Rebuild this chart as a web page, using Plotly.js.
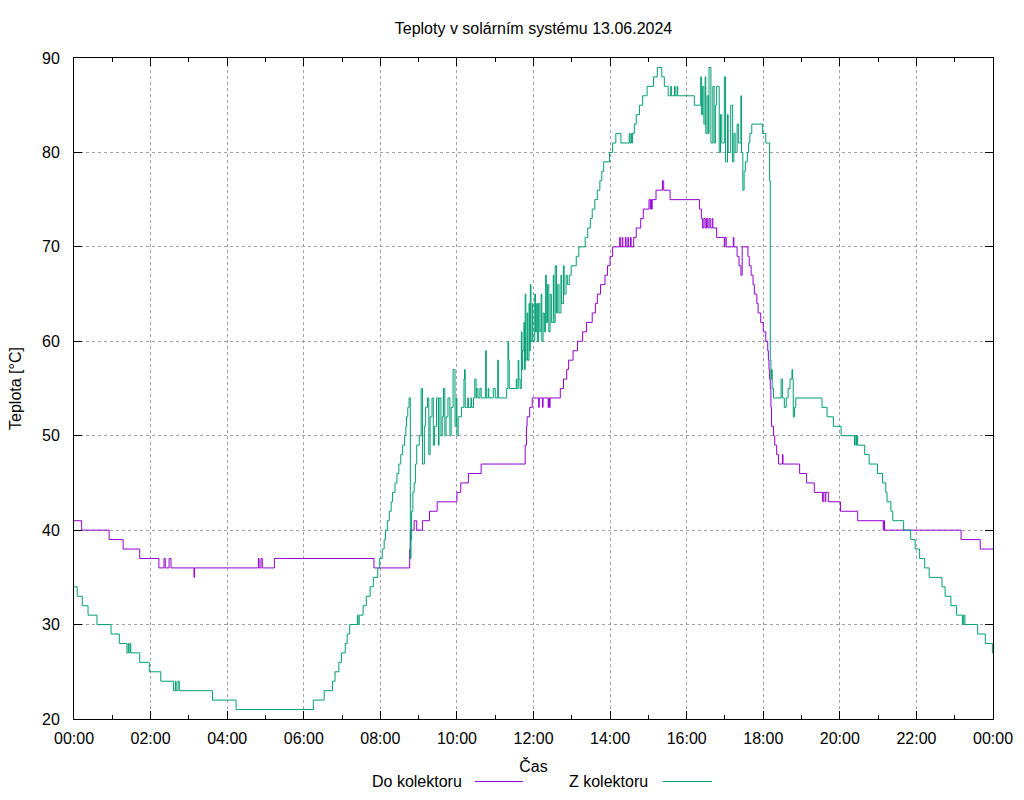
<!DOCTYPE html>
<html>
<head>
<meta charset="utf-8">
<script src="https://cdn.plot.ly/plotly-3.0.1.min.js"></script>
<style>
  html, body { margin: 0; padding: 0; background: #fff; }
  #chart { width: 1024px; height: 800px; }
</style>
</head>
<body>
<div id="chart"></div>
<script>
/* --- Data: Do kolektoru (purple) --- */
const doTimes = [
  '00:00', '00:12', '00:55', '01:17', '01:43', '02:13', '02:21', '02:23', '02:29', '02:32',
  '03:08', '03:09', '04:49', '04:50', '04:53', '04:55', '05:14', '07:50', '08:46', '08:47',
  '08:53', '08:57', '09:06', '09:17', '09:29', '10:00', '10:06', '10:18', '10:38', '11:47',
  '11:49', '11:50', '11:54', '11:58', '12:08', '12:09', '12:14', '12:15', '12:23', '12:24',
  '12:25', '12:26', '12:42', '12:47', '12:52', '12:55', '13:02', '13:09', '13:17', '13:23',
  '13:32', '13:37', '13:40', '13:45', '13:52', '13:56', '14:00', '14:04', '14:15', '14:16',
  '14:19', '14:20', '14:24', '14:25', '14:28', '14:29', '14:32', '14:33', '14:37', '14:41',
  '14:48', '14:52', '15:01', '15:03', '15:04', '15:05', '15:06', '15:12', '15:22', '15:24',
  '15:34', '16:20', '16:23', '16:25', '16:27', '16:29', '16:31', '16:33', '16:35', '16:37',
  '16:40', '16:41', '16:47', '16:59', '17:00', '17:02', '17:13', '17:14', '17:19', '17:22',
  '17:25', '17:27', '17:36', '17:38', '17:41', '17:44', '17:46', '17:50', '17:52', '17:56',
  '18:00', '18:04', '18:07', '18:08', '18:09', '18:10', '18:11', '18:12', '18:13', '18:16',
  '18:18', '18:21', '18:24', '18:30', '18:31', '18:57', '19:08', '19:20', '19:33', '19:34',
  '19:37', '19:38', '19:42', '20:01', '20:28', '21:08', '21:09', '21:10', '23:10', '23:40',
  '24:00',
];
const doValues = [
  41, 40, 39, 38, 37, 36, 37, 36, 37, 36,
  35, 36, 37, 36, 37, 36, 37, 36, 38, 40,
  41, 40, 41, 42, 43, 44, 45, 46, 47, 49,
  51, 52, 53, 54, 53, 54, 53, 54, 53, 54,
  53, 54, 55, 56, 57, 58, 59, 60, 61, 62,
  63, 64, 65, 66, 67, 68, 69, 70, 71, 70,
  71, 70, 71, 70, 71, 70, 71, 70, 71, 72,
  73, 74, 75, 74, 75, 74, 75, 76, 77, 76,
  75, 74, 73, 72, 73, 72, 73, 72, 73, 72,
  73, 72, 71, 70, 71, 70, 71, 70, 69, 68,
  67, 70, 69, 68, 67, 66, 65, 64, 63, 62,
  61, 60, 59, 58, 57, 56, 55, 53, 51, 50,
  49, 48, 47, 48, 47, 46, 45, 44, 43, 44,
  43, 44, 43, 42, 41, 40, 41, 40, 39, 38,
  38,
];

/* --- Data: Z kolektoru (green) --- */
const zTimes = [
  '00:00', '00:05', '00:13', '00:22', '00:36', '00:58', '01:11', '01:23', '01:25', '01:26',
  '01:28', '01:29', '01:43', '01:58', '02:16', '02:36', '02:39', '02:40', '02:43', '02:45',
  '03:37', '04:14', '06:15', '06:32', '06:45', '06:49', '06:55', '06:59', '07:05', '07:08',
  '07:12', '07:24', '07:25', '07:27', '07:33', '07:38', '07:44', '07:49', '07:56', '07:59',
  '08:03', '08:06', '08:08', '08:11', '08:14', '08:17', '08:19', '08:23', '08:26', '08:29',
  '08:32', '08:35', '08:38', '08:40', '08:41', '08:43', '08:45', '08:47', '08:48', '08:49',
  '08:51', '08:53', '08:55', '08:57', '09:01', '09:04', '09:06', '09:09', '09:11', '09:14',
  '09:16', '09:18', '09:21', '09:23', '09:25', '09:28', '09:31', '09:32', '09:35', '09:37',
  '09:39', '09:41', '09:43', '09:46', '09:49', '09:51', '09:54', '09:57', '09:59', '10:00',
  '10:02', '10:07', '10:11', '10:12', '10:13', '10:17', '10:18', '10:22', '10:23', '10:26',
  '10:28', '10:30', '10:31', '10:33', '10:36', '10:38', '10:45', '10:46', '10:49', '10:50',
  '10:57', '11:00', '11:04', '11:05', '11:18', '11:20', '11:21', '11:22', '11:33', '11:34',
  '11:36', '11:37', '11:39', '11:41', '11:42', '11:43', '11:45', '11:46', '11:47', '11:48',
  '11:50', '11:51', '11:53', '11:54', '11:55', '11:56', '11:58', '11:59', '12:02', '12:03',
  '12:05', '12:06', '12:08', '12:10', '12:12', '12:13', '12:15', '12:17', '12:19', '12:20',
  '12:22', '12:24', '12:26', '12:28', '12:31', '12:32', '12:34', '12:36', '12:38', '12:40',
  '12:43', '12:44', '12:47', '12:48', '12:51', '12:53', '12:56', '12:59', '13:07', '13:11',
  '13:21', '13:25', '13:29', '13:32', '13:36', '13:40', '13:44', '13:47', '13:50', '13:59',
  '14:04', '14:09', '14:17', '14:30', '14:31', '14:33', '14:34', '14:35', '14:38', '14:41',
  '14:46', '14:51', '14:58', '15:08', '15:14', '15:21', '15:25', '15:31', '15:35', '15:36',
  '15:41', '15:42', '15:45', '15:46', '16:12', '16:22', '16:23', '16:25', '16:27', '16:29',
  '16:30', '16:32', '16:34', '16:35', '16:38', '16:41', '16:43', '16:45', '16:47', '16:51',
  '16:53', '16:55', '16:59', '17:01', '17:04', '17:05', '17:09', '17:12', '17:14', '17:16',
  '17:19', '17:21', '17:25', '17:26', '17:28', '17:30', '17:32', '17:35', '17:37', '17:39',
  '17:42', '17:59', '18:04', '18:10', '18:11', '18:12', '18:13', '18:14', '18:16', '18:28',
  '18:30', '18:33', '18:36', '18:39', '18:42', '18:45', '18:46', '18:47', '18:49', '18:51',
  '19:32', '19:40', '19:50', '20:02', '20:23', '20:24', '20:26', '20:27', '20:28', '20:39',
  '20:46', '20:59', '21:07', '21:12', '21:14', '21:20', '21:23', '21:40', '21:51', '21:58',
  '22:05', '22:13', '22:20', '22:40', '22:45', '22:54', '23:03', '23:12', '23:14', '23:16',
  '23:36', '23:48', '23:59', '24:00',
];
const zValues = [
  34, 33, 32, 31, 30, 29, 28, 27, 28, 27,
  28, 27, 26, 25, 24, 23, 24, 23, 24, 23,
  22, 21, 22, 23, 24, 25, 26, 27, 28, 29,
  30, 31, 30, 31, 32, 33, 34, 35, 36, 37,
  38, 39, 40, 41, 42, 43, 44, 45, 46, 47,
  48, 49, 50, 51, 52, 53, 54, 37, 39, 42,
  44, 45, 47, 49, 50, 55, 47, 51, 53, 54,
  48, 52, 54, 49, 51, 54, 49, 54, 50, 52,
  55, 50, 52, 54, 50, 53, 57, 51, 54, 50,
  52, 53, 56, 57, 53, 54, 53, 54, 53, 54,
  56, 54, 55, 54, 55, 54, 59, 54, 55, 54,
  55, 54, 58, 54, 55, 60, 58, 55, 56, 55,
  58, 56, 55, 61, 57, 59, 62, 57, 65, 58,
  63, 58, 64, 59, 66, 60, 64, 60, 65, 61,
  64, 60, 64, 61, 65, 60, 63, 61, 67, 62,
  66, 61, 65, 62, 67, 62, 68, 63, 66, 63,
  67, 64, 68, 65, 67, 66, 67, 68, 69, 70,
  71, 72, 73, 74, 75, 76, 77, 78, 79, 80,
  81, 82, 81, 82, 81, 82, 81, 82, 83, 84,
  85, 86, 87, 88, 89, 88, 87, 86, 87, 86,
  87, 86, 87, 86, 85, 88, 84, 87, 83, 88,
  82, 86, 82, 89, 81, 87, 81, 85, 87, 80,
  84, 81, 88, 79, 84, 80, 85, 79, 82, 80,
  83, 81, 86, 80, 76, 78, 79, 80, 81, 82,
  83, 82, 81, 77, 58, 56, 57, 55, 54, 56,
  54, 53, 54, 55, 56, 57, 56, 52, 53, 54,
  53, 52, 51, 50, 49, 50, 49, 50, 49, 48,
  47, 46, 45, 44, 43, 42, 41, 40, 39, 38,
  37, 36, 35, 34, 33, 32, 31, 30, 31, 30,
  29, 28, 27, 27,
];

const yTicks = [20, 30, 40, 50, 60, 70, 80, 90];

const COLORS = {
  doKol: '#9400d3',
  zKol: '#009e73',
  grid: '#a0a0a0',
  text: '#000000',
};
const FONT = 'Liberation Sans, Arial, sans-serif';

// "HH:MM" -> datetime on 13.06.2024 ("24:00" is the next midnight)
function toDate(t) {
  if (t === '24:00') return '2024-06-14 00:00';
  return '2024-06-13 ' + t;
}

const traces = [
  {
    x: doTimes.map(toDate), y: doValues,
    name: 'Do kolektoru', mode: 'lines',
    line: { color: COLORS.doKol, width: 1, shape: 'hv' },
  },
  {
    x: zTimes.map(toDate), y: zValues,
    name: 'Z kolektoru', mode: 'lines',
    line: { color: COLORS.zKol, width: 1, shape: 'hv' },
  },
];

// plot area in pixels: x 74..993, y 58..719
const px = x => (x - 74) / 919;
const py = y => (719 - y) / 661;

const layout = {
  width: 1024, height: 800,
  font: { family: FONT, size: 16, color: COLORS.text },
  paper_bgcolor: '#fff', plot_bgcolor: '#fff',
  margin: { l: 74, r: 31, t: 58, b: 81 },
  showlegend: false,
  title: {
    text: 'Teploty v solárním systému 13.06.2024',
    font: { family: FONT, size: 16, color: COLORS.text },
    xref: 'paper', x: 0.5, xanchor: 'center',
    yref: 'container', y: 1 - 28 / 800, yanchor: 'middle',
  },
  xaxis: {
    type: 'date',
    range: ['2024-06-13 00:00', '2024-06-14 00:00'],
    dtick: 2 * 3600 * 1000, tick0: '2024-06-13 00:00',
    tickformat: '%H:%M',
    ticks: 'inside', ticklen: 8, tickcolor: '#000', tickwidth: 1,
    minor: { dtick: 3600 * 1000, ticks: 'inside', ticklen: 4, tickcolor: '#000', showgrid: false },
    showline: true, linecolor: '#000', linewidth: 1, mirror: 'ticks',
    showgrid: true, gridcolor: COLORS.grid, griddash: '3px,3px', gridwidth: 1,
    zeroline: false, automargin: false,
    ticklabelstandoff: 5,
    title: { text: 'Čas', standoff: 14, font: { family: FONT, size: 16 } },
  },
  yaxis: {
    range: [20, 90], tickvals: yTicks,
    ticks: 'inside', ticklen: 8, tickcolor: '#000', tickwidth: 1,
    showline: true, linecolor: '#000', linewidth: 1, mirror: 'ticks',
    showgrid: true, gridcolor: COLORS.grid, griddash: '3px,3px', gridwidth: 1,
    zeroline: false, automargin: false,
    ticklabelstandoff: 10,
    title: { text: 'Teplota [°C]', standoff: 16, font: { family: FONT, size: 16 } },
  },
  annotations: [
    { text: 'Do kolektoru', xref: 'paper', yref: 'paper', x: px(464), y: py(781.5),
      xanchor: 'right', yanchor: 'middle', showarrow: false },
    { text: 'Z kolektoru', xref: 'paper', yref: 'paper', x: px(650), y: py(781.5),
      xanchor: 'right', yanchor: 'middle', showarrow: false },
  ],
  shapes: [
    { type: 'line', xref: 'paper', yref: 'paper', x0: px(475), x1: px(523), y0: py(781.5), y1: py(781.5),
      line: { color: COLORS.doKol, width: 1 } },
    { type: 'line', xref: 'paper', yref: 'paper', x0: px(663), x1: px(712), y0: py(781.5), y1: py(781.5),
      line: { color: COLORS.zKol, width: 1 } },
  ],
};

Plotly.newPlot('chart', traces, layout, { displayModeBar: false, staticPlot: true });
</script>
</body>
</html>
